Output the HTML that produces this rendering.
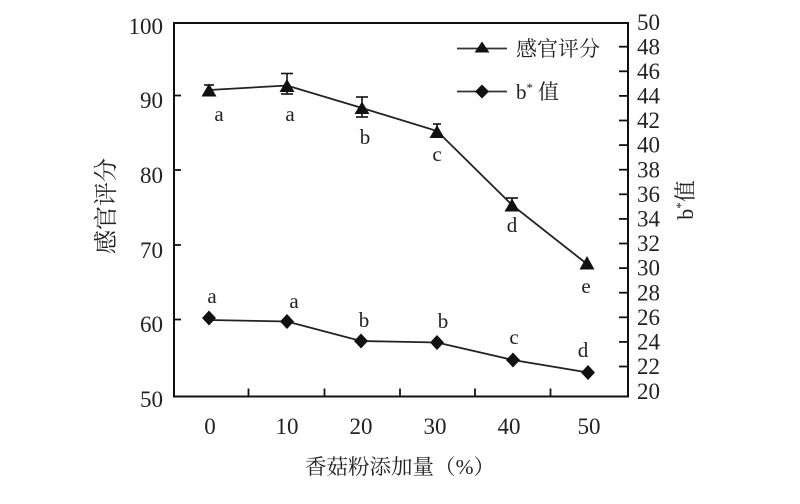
<!DOCTYPE html>
<html>
<head>
<meta charset="utf-8">
<style>
html,body{margin:0;padding:0;background:#fff;}
svg{display:block;}
.num{font-family:"Liberation Serif",serif;font-size:23px;fill:#222;}
.lab{font-family:"Liberation Serif",serif;font-size:21px;fill:#222;}
.cjk{font-family:"Liberation Serif","Noto Serif CJK SC",serif;fill:#222;}
</style>
</head>
<body>
<svg width="800" height="504" viewBox="0 0 800 504" xmlns="http://www.w3.org/2000/svg">
<rect width="800" height="504" fill="#fff"/>
<!-- frame -->
<rect x="174" y="23" width="454" height="373.5" fill="none" stroke="#111" stroke-width="2"/>
<!-- left ticks -->
<g stroke="#111" stroke-width="1.8">
<line x1="174" y1="95.5" x2="181" y2="95.5"/>
<line x1="174" y1="170" x2="181" y2="170"/>
<line x1="174" y1="245" x2="181" y2="245"/>
<line x1="174" y1="319.5" x2="181" y2="319.5"/>
</g>
<!-- right ticks -->
<g stroke="#111" stroke-width="1.8">
<line x1="619" y1="46.7" x2="628" y2="46.7"/>
<line x1="619" y1="71.3" x2="628" y2="71.3"/>
<line x1="619" y1="95.9" x2="628" y2="95.9"/>
<line x1="619" y1="120.5" x2="628" y2="120.5"/>
<line x1="619" y1="145.1" x2="628" y2="145.1"/>
<line x1="619" y1="169.7" x2="628" y2="169.7"/>
<line x1="619" y1="194.3" x2="628" y2="194.3"/>
<line x1="619" y1="218.9" x2="628" y2="218.9"/>
<line x1="619" y1="243.5" x2="628" y2="243.5"/>
<line x1="619" y1="268.1" x2="628" y2="268.1"/>
<line x1="619" y1="292.7" x2="628" y2="292.7"/>
<line x1="619" y1="317.3" x2="628" y2="317.3"/>
<line x1="619" y1="341.9" x2="628" y2="341.9"/>
<line x1="619" y1="366.5" x2="628" y2="366.5"/>
</g>
<!-- bottom ticks -->
<g stroke="#111" stroke-width="1.8">
<line x1="248.5" y1="396.5" x2="248.5" y2="388.5"/>
<line x1="324.5" y1="396.5" x2="324.5" y2="388.5"/>
<line x1="400" y1="396.5" x2="400" y2="388.5"/>
<line x1="475" y1="396.5" x2="475" y2="388.5"/>
<line x1="550.5" y1="396.5" x2="550.5" y2="388.5"/>
</g>
<!-- left tick labels -->
<g class="num" text-anchor="end">
<text x="163" y="34">100</text>
<text x="163" y="108">90</text>
<text x="163" y="183">80</text>
<text x="163" y="258">70</text>
<text x="163" y="332">60</text>
<text x="163" y="407">50</text>
</g>
<!-- right tick labels -->
<g class="num" text-anchor="start">
<text x="637" y="30">50</text>
<text x="637" y="54.5">48</text>
<text x="637" y="79">46</text>
<text x="637" y="103.5">44</text>
<text x="637" y="128">42</text>
<text x="637" y="152.7">40</text>
<text x="637" y="177.3">38</text>
<text x="637" y="202">36</text>
<text x="637" y="226.5">34</text>
<text x="637" y="251">32</text>
<text x="637" y="275.7">30</text>
<text x="637" y="300.3">28</text>
<text x="637" y="325">26</text>
<text x="637" y="349.5">24</text>
<text x="637" y="374">22</text>
<text x="637" y="399">20</text>
</g>
<!-- bottom tick labels -->
<g class="num" text-anchor="middle">
<text x="210" y="434">0</text>
<text x="287" y="434">10</text>
<text x="361" y="434">20</text>
<text x="435" y="434">30</text>
<text x="509" y="434">40</text>
<text x="589" y="434">50</text>
</g>
<!-- axis titles -->
<text class="cjk" x="400" y="474" font-size="21" text-anchor="middle" textLength="190" lengthAdjust="spacingAndGlyphs">香菇粉添加量（%）</text>
<text class="cjk" font-size="24" text-anchor="middle" transform="translate(114,206) rotate(-90)">感官评分</text>
<text class="cjk" font-size="22" text-anchor="middle" transform="translate(693,200) rotate(-90)">b<tspan font-size="13" dy="-8">*</tspan><tspan dy="8">值</tspan></text>

<!-- series 1: sensory -->
<polyline points="209,90 287,85.5 362,108 437,131 512,205 587,264" fill="none" stroke="#222" stroke-width="1.8"/>
<!-- error bars -->
<g stroke="#111" stroke-width="1.6">
<line x1="209" y1="85" x2="209" y2="94"/><line x1="204" y1="85" x2="214" y2="85"/>
<line x1="287" y1="73.5" x2="287" y2="94"/><line x1="281" y1="73.5" x2="293" y2="73.5"/><line x1="281" y1="94" x2="293" y2="94"/>
<line x1="362" y1="97" x2="362" y2="117"/><line x1="356" y1="97" x2="368" y2="97"/><line x1="356" y1="117" x2="368" y2="117"/>
<line x1="437" y1="124" x2="437" y2="133"/><line x1="433" y1="124" x2="441" y2="124"/>
<line x1="512" y1="198" x2="512" y2="208"/><line x1="506" y1="198" x2="518" y2="198"/>
</g>
<g fill="#111">
<polygon points="209,83.5 201.5,96.5 216.5,96.5"/>
<polygon points="287,79 279.5,92 294.5,92"/>
<polygon points="362,101.5 354.5,114 369.5,114"/>
<polygon points="437,125 429.5,138 444.5,138"/>
<polygon points="512,198.5 504.5,211.5 519.5,211.5"/>
<polygon points="587,256 579.5,269.5 594.5,269.5"/>
</g>
<!-- series 2: b* -->
<polyline points="209,320 287,321.5 361,341 437,342.5 513,360 588,372.5" fill="none" stroke="#222" stroke-width="1.8"/>
<g fill="#111">
<polygon points="209,310.5 216,318 209,325.5 202,318"/>
<polygon points="287,314 294,321.5 287,329 280,321.5"/>
<polygon points="361,333.5 368,341 361,348.5 354,341"/>
<polygon points="437,335 444,342.5 437,350 430,342.5"/>
<polygon points="513,352.5 520,360 513,367.5 506,360"/>
<polygon points="588,365 595,372.5 588,380 581,372.5"/>
</g>
<!-- letter labels -->
<g class="lab" text-anchor="middle">
<text x="219" y="121">a</text>
<text x="290" y="121">a</text>
<text x="365" y="144">b</text>
<text x="437" y="161">c</text>
<text x="512" y="232">d</text>
<text x="586" y="293">e</text>
<text x="212" y="303">a</text>
<text x="294" y="308">a</text>
<text x="364" y="327">b</text>
<text x="443" y="328">b</text>
<text x="514" y="344">c</text>
<text x="583" y="357">d</text>
</g>
<!-- legend -->
<line x1="457" y1="48.5" x2="507" y2="48.5" stroke="#333" stroke-width="1.8"/>
<polygon points="482,41.5 474.5,52.5 489.5,52.5" fill="#111"/>
<text class="cjk" x="516" y="56" font-size="21">感官评分</text>
<line x1="457" y1="91.5" x2="507" y2="91.5" stroke="#333" stroke-width="1.8"/>
<polygon points="482,84.5 489,91.5 482,98.5 475,91.5" fill="#111"/>
<text class="cjk" x="516" y="99" font-size="21">b<tspan font-size="13" dy="-7">*</tspan><tspan dy="7" dx="5">值</tspan></text>
</svg>
</body>
</html>
